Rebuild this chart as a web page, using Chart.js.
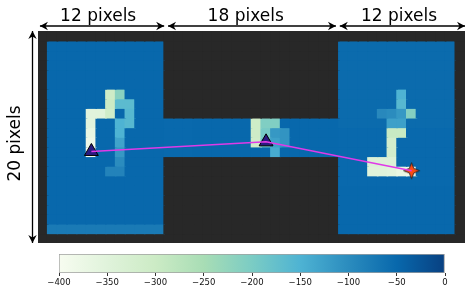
<!DOCTYPE html>
<html>
<head>
<meta charset="utf-8">
<script src="https://cdn.jsdelivr.net/npm/chart.js@4/dist/chart.umd.min.js"></script>
<style>
  html, body { margin: 0; padding: 0; background: #fff; width: 474px; height: 291px; overflow: hidden; }
  canvas { position: absolute; left: 0; }
  #maze { top: 0; }
  #bar { top: 251px; }
</style>
</head>
<body>
<canvas id="maze" width="474" height="291"></canvas>
<canvas id="bar" width="474" height="40"></canvas>
<script>
// cell values, row by row (20 rows x 12 cols)
const leftRoom = [
  [-50,-50,-50,-50,-50,-50,-50,-50,-50,-50,-50,-50],
  [-50,-50,-50,-50,-50,-50,-50,-50,-50,-50,-50,-50],
  [-50,-50,-50,-50,-50,-50,-50,-50,-50,-50,-50,-50],
  [-50,-50,-50,-50,-50,-50,-50,-50,-50,-50,-50,-50],
  [-50,-50,-50,-50,-50,-50,-50,-50,-50,-50,-50,-50],
  [-50,-50,-50,-50,-50,-50,-305,-215,-50,-50,-50,-50],
  [-50,-50,-50,-50,-50,-50,-300,-165,-165,-50,-50,-50],
  [-50,-50,-50,-50,-352,-350,-310,-50,-160,-50,-50,-50],
  [-50,-50,-50,-50,-355,-50,-50,-150,-160,-50,-50,-50],
  [-50,-50,-50,-50,-370,-50,-50,-150,-50,-50,-50,-50],
  [-50,-50,-50,-50,-380,-50,-50,-130,-50,-50,-50,-50],
  [-50,-50,-50,-50,-395,-50,-50,-115,-50,-50,-50,-50],
  [-50,-50,-50,-50,-50,-50,-50,-100,-50,-50,-50,-50],
  [-50,-50,-50,-50,-50,-50,-88,-88,-50,-50,-50,-50],
  [-50,-50,-50,-50,-50,-50,-50,-50,-50,-50,-50,-50],
  [-50,-50,-50,-50,-50,-50,-50,-50,-50,-50,-50,-50],
  [-50,-50,-50,-50,-50,-50,-50,-50,-50,-50,-50,-50],
  [-50,-50,-50,-50,-50,-50,-50,-50,-50,-50,-50,-50],
  [-50,-50,-50,-50,-50,-50,-50,-50,-50,-50,-50,-50],
  [-75,-75,-75,-75,-75,-75,-75,-75,-75,-75,-75,-75]
];
// 4 rows x 18 cols
const corridor = [
  [-52,-52,-52,-50,-50,-50,-50,-50,-50,-305,-205,-205,-50,-50,-50,-50,-50,-50],
  [-52,-52,-52,-50,-50,-50,-50,-50,-50,-305,-195,-115,-110,-50,-50,-50,-50,-50],
  [-52,-52,-52,-50,-50,-50,-50,-50,-50,-310,-190,-125,-110,-50,-50,-50,-50,-50],
  [-52,-52,-52,-50,-50,-50,-50,-50,-50,-50,-50,-140,-50,-50,-50,-50,-50,-50]
];
const rightRoom = [
  [-54,-54,-54,-54,-54,-54,-54,-54,-54,-54,-54,-54],
  [-54,-54,-54,-54,-54,-54,-54,-54,-54,-54,-54,-54],
  [-54,-54,-54,-54,-54,-54,-54,-54,-54,-54,-54,-54],
  [-54,-54,-54,-54,-54,-54,-54,-54,-54,-54,-54,-54],
  [-54,-54,-54,-54,-54,-54,-54,-54,-54,-54,-54,-54],
  [-54,-54,-54,-54,-54,-54,-150,-54,-54,-54,-54,-54],
  [-54,-54,-54,-54,-54,-54,-160,-54,-54,-54,-54,-54],
  [-54,-54,-54,-54,-95,-100,-115,-210,-54,-54,-54,-54],
  [-54,-54,-54,-54,-54,-125,-125,-54,-54,-54,-54,-54],
  [-52,-52,-52,-52,-52,-295,-295,-52,-52,-52,-52,-52],
  [-52,-52,-52,-52,-52,-315,-52,-52,-52,-52,-52,-52],
  [-52,-52,-52,-52,-52,-315,-52,-52,-52,-52,-52,-52],
  [-52,-52,-52,-340,-340,-340,-52,-52,-52,-52,-52,-52],
  [-52,-52,-52,-350,-350,-355,-370,-385,-52,-52,-52,-52],
  [-52,-52,-52,-52,-52,-52,-52,-52,-52,-52,-52,-52],
  [-50,-50,-50,-50,-50,-50,-50,-50,-50,-50,-50,-50],
  [-50,-50,-50,-50,-50,-50,-50,-50,-50,-50,-50,-50],
  [-50,-50,-50,-50,-50,-50,-50,-50,-50,-50,-50,-50],
  [-50,-50,-50,-50,-50,-50,-50,-50,-50,-50,-50,-50],
  [-50,-50,-50,-50,-50,-50,-50,-50,-50,-50,-50,-50]
];

// agent path through the maze, in cell units
const pathX = [5.5, 23.5, 38.5];
const pathY = [12.5, 11.5, 14.5];

// dimension arrows, also in cell units
const spanLabels = ['12 pixels', '18 pixels', '12 pixels'];
const spanStart = [0.2, 13.4, 31.1];
const spanEnd = [13.0, 30.7, 44.0];
const spanTextAt = [6.2, 21.4, 37.2];
const heightLabel = '20 pixels';

// GnBu
const colorStops = ['#f7fcf0','#e0f3db','#ccebc5','#a8ddb5','#7bccc4','#4eb3d3','#2b8cbe','#0868ac','#084081'];
const stopValues = [-400,-350,-300,-250,-200,-150,-100,-50,0];

const COLS = 44, ROWS = 22;
const WALL = '#282828';

function hexRgb(h){
  return [1,3,5].map(i=>parseInt(h.slice(i,i+2),16));
}
function valueColor(v){
  if(v===null) return WALL;
  let i = 0;
  while(i < stopValues.length-2 && v > stopValues[i+1]) i++;
  const t = (v-stopValues[i])/(stopValues[i+1]-stopValues[i]);
  const a = hexRgb(colorStops[i]), b = hexRgb(colorStops[i+1]);
  return 'rgb('+a.map((c,k)=>Math.round(c+(b[k]-c)*t)).join(',')+')';
}

// full grid with the dark wall filled in as null
const grid = [];
for(let r=0;r<ROWS;r++){
  const row = new Array(COLS).fill(null);
  if(r>=1 && r<=20){
    leftRoom[r-1].forEach((v,i)=>{ row[1+i]=v; });
    rightRoom[r-1].forEach((v,i)=>{ row[31+i]=v; });
  }
  if(r>=9 && r<=12){
    corridor[r-9].forEach((v,i)=>{ row[13+i]=v; });
  }
  grid.push(row);
}

const cellDatasets = grid.map(row=>({
  type: 'bar',
  data: row.map((v,i)=>({x:i+0.5, y:1})),
  backgroundColor: row.map(valueColor),
  borderWidth: 0,
  inflateAmount: 0.8,
  barPercentage: 1,
  categoryPercentage: 1,
  yAxisID: 'y',
  order: 5
}));

// four pointed star for the goal marker
function goalStar(){
  const c = document.createElement('canvas');
  c.width = 19; c.height = 19;
  const g = c.getContext('2d');
  g.translate(9.5,9.5);
  g.beginPath();
  for(let i=0;i<8;i++){
    const a = i*Math.PI/4, r = i%2 ? 3.2 : 8;
    g.lineTo(Math.sin(a)*r, -Math.cos(a)*r);
  }
  g.closePath();
  g.fillStyle = '#ff4a12';
  g.strokeStyle = '#222';
  g.lineWidth = 0.9;
  g.fill();
  g.stroke();
  return c;
}

const pathPoints = pathX.map((x,i)=>({x:x, y:pathY[i]}));

function drawArrow(ctx, x1, y1, x2, y2){
  const a = Math.atan2(y2-y1, x2-x1);
  ctx.beginPath();
  ctx.moveTo(x1,y1);
  ctx.lineTo(x2,y2);
  ctx.lineWidth = 1.3;
  ctx.strokeStyle = '#000';
  ctx.stroke();
  [[x1,y1,a+Math.PI],[x2,y2,a]].forEach(([x,y,t])=>{
    ctx.save();
    ctx.translate(x,y);
    ctx.rotate(t);
    ctx.beginPath();
    ctx.moveTo(0,0);
    ctx.lineTo(-8,-4.2);
    ctx.lineTo(-5.5,0);
    ctx.lineTo(-8,4.2);
    ctx.closePath();
    ctx.fillStyle = '#000';
    ctx.fill();
    ctx.restore();
  });
}

const dimensionPlugin = {
  id: 'dimensions',
  afterDraw(chart){
    const ctx = chart.ctx, xs = chart.scales.x, yp = chart.scales.yp;
    ctx.save();
    ctx.fillStyle = '#000';
    ctx.font = '17px "DejaVu Sans"';
    ctx.textAlign = 'center';
    ctx.textBaseline = 'alphabetic';
    spanLabels.forEach((label,i)=>{
      const a = xs.getPixelForValue(spanStart[i]), b = xs.getPixelForValue(spanEnd[i]);
      drawArrow(ctx, a, 26, b, 26);
      ctx.fillStyle = '#000';
      ctx.fillText(label, xs.getPixelForValue(spanTextAt[i]), 21);
    });
    drawArrow(ctx, 32.5, yp.getPixelForValue(0), 32.5, yp.getPixelForValue(22));
    ctx.translate(20, 143.5);
    ctx.rotate(-Math.PI/2);
    ctx.fillStyle = '#000';
    ctx.fillText(heightLabel, 0, 0);
    ctx.restore();
  }
};

new Chart(document.getElementById('maze'), {
  type: 'bar',
  data: {
    datasets: cellDatasets.concat([
      {
        type: 'line',
        data: pathPoints,
        yAxisID: 'yp',
        borderColor: '#e03ae8',
        borderWidth: 1.5,
        pointRadius: 0,
        fill: false,
        order: 1
      },
      {
        type: 'line',
        data: pathPoints,
        yAxisID: 'yp',
        showLine: false,
        pointStyle: ['triangle','triangle',goalStar()],
        pointRadius: 8,
        pointBackgroundColor: '#2a1a80',
        pointBorderColor: '#000',
        pointBorderWidth: 1,
        order: 2
      }
    ])
  },
  options: {
    responsive: false,
    animation: false,
    layout: { padding: { left: 38, right: 9, top: 31, bottom: 48 } },
    plugins: { legend: { display:false }, tooltip: { enabled:false } },
    scales: {
      x: { type:'linear', display:false, stacked:true, offset:false, min:0, max:COLS, ticks:{ stepSize:1 } },
      y: { display:false, stacked:true, reverse:true, min:0, max:ROWS },
      yp: { type:'linear', display:false, reverse:true, min:0, max:ROWS }
    }
  },
  plugins: [dimensionPlugin]
});

// colorbar
new Chart(document.getElementById('bar'), {
  type: 'bar',
  data: {
    labels: [''],
    datasets: [{
      data: [[stopValues[0], stopValues[stopValues.length-1]]],
      barPercentage: 1,
      categoryPercentage: 1,
      borderWidth: 1,
      borderColor: '#a0a0a0',
      borderSkipped: false,
      backgroundColor(c){
        const area = c.chart.chartArea;
        if(!area) return colorStops[0];
        const g = c.chart.ctx.createLinearGradient(area.left,0,area.right,0);
        colorStops.forEach((s,i)=>g.addColorStop(i/(colorStops.length-1), s));
        return g;
      }
    }]
  },
  options: {
    indexAxis: 'y',
    responsive: false,
    animation: false,
    layout: { padding: { left: 59, right: 29, top: 3, bottom: 0 } },
    plugins: { legend: { display:false }, tooltip: { enabled:false } },
    scales: {
      y: { display:false },
      x: {
        type: 'linear',
        min: -400,
        max: 0,
        afterFit(s){ s.paddingLeft = 0; s.paddingRight = 0; s.height = 18; },
        border: { display:false },
        grid: { drawOnChartArea:false, drawTicks:true, tickLength:3, color:'#333' },
        ticks: {
          stepSize: 50,
          maxRotation: 0,
          autoSkip: false,
          padding: 2,
          color: '#111',
          font: { family:'"DejaVu Sans"', size:8.5 },
          callback: v=>String(v).replace('-','\u2212')
        }
      }
    }
  }
});
</script>
</body>
</html>
